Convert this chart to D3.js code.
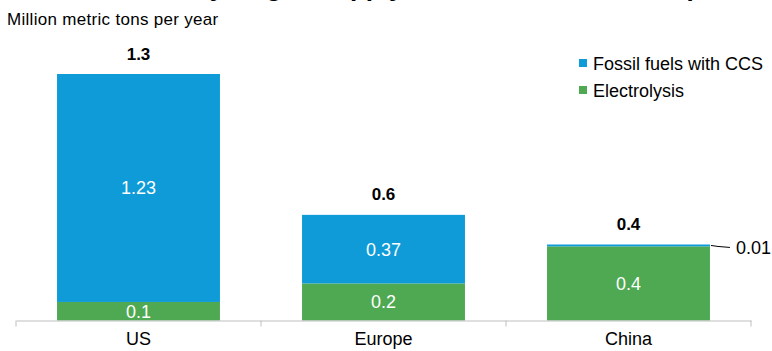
<!DOCTYPE html>
<html>
<head>
<meta charset="utf-8">
<script src="https://cdn.jsdelivr.net/npm/d3@7"></script>
<style>
  body { margin: 0; background: #fff; }
  svg { display: block; }
  text { font-family: "Liberation Sans", Arial, sans-serif; }
</style>
</head>
<body>
<script>
var categories = ['US', 'Europe', 'China'];
var seriesNames = ['Electrolysis', 'Fossil fuels with CCS'];
var electrolysis = [0.1, 0.2, 0.4];
var fossilCCS = [1.23, 0.37, 0.01];
var totals = [1.3, 0.6, 0.4];

var width = 772, height = 351;
var svg = d3.select('body').append('svg')
  .attr('width', width)
  .attr('height', height);

// title is cut off at the top edge, only descenders show
svg.append('text')
  .attr('x', 386)
  .attr('y', -4)
  .attr('text-anchor', 'middle')
  .attr('font-size', 26)
  .attr('font-weight', 'bold')
  .attr('fill', '#000')
  .text('Low-emissions hydrogen supply under construction, top three');

svg.append('text')
  .attr('x', 7)
  .attr('y', 25)
  .attr('font-size', 17)
  .attr('letter-spacing', 0.3)
  .attr('fill', '#000')
  .text('Million metric tons per year');

var x = d3.scaleBand()
  .domain(categories)
  .range([16, 751]);

var y = d3.scaleLinear()
  .domain([0, 1.5])
  .range([320.5, 42.5]);

var colors = { 'Electrolysis': '#4EA952', 'Fossil fuels with CCS': '#0E9BD8' };
var barRatio = 0.665;

var data = categories.map(function(c, i) {
  return { cat: c, elec: electrolysis[i], fossil: fossilCCS[i], total: totals[i] };
});

var stack = d3.stack().keys(['elec', 'fossil']);
var layers = stack(data);
var keyNames = { elec: 'Electrolysis', fossil: 'Fossil fuels with CCS' };

function barX(d) {
  return x(d.data.cat) + x.bandwidth() * (1 - barRatio) / 2;
}

layers.forEach(function(layer) {
  var g = svg.append('g');
  g.selectAll('rect')
    .data(layer)
    .enter()
    .append('rect')
    .attr('x', barX)
    .attr('y', function(d) { return y(d[1]); })
    .attr('width', x.bandwidth() * barRatio)
    .attr('height', function(d) { return y(d[0]) - y(d[1]); })
    .attr('fill', colors[keyNames[layer.key]]);

  // white labels inside, except the tiny China segment
  g.selectAll('text')
    .data(layer.filter(function(d) { return y(d[0]) - y(d[1]) > 10; }))
    .enter()
    .append('text')
    .attr('x', function(d) { return x(d.data.cat) + x.bandwidth() / 2; })
    .attr('y', function(d) { return (y(d[0]) + y(d[1])) / 2 + 6.5; })
    .attr('text-anchor', 'middle')
    .attr('font-size', 18)
    .attr('fill', '#fff')
    .text(function(d) { return d.data[layer.key]; });
});

// label for the tiny segment with a leader line
var china = data[2];
var chinaRight = x('China') + x.bandwidth() * (1 + barRatio) / 2;
var chinaMid = y(china.elec + china.fossil / 2);
svg.append('path')
  .attr('d', 'M' + (chinaRight + 1) + ',' + chinaMid +
    ' L' + (chinaRight + 8) + ',' + (chinaMid + 1) +
    ' L' + (chinaRight + 20) + ',' + (chinaMid + 2))
  .attr('fill', 'none')
  .attr('stroke', '#000')
  .attr('stroke-width', 1);
svg.append('text')
  .attr('x', chinaRight + 26)
  .attr('y', chinaMid + 9)
  .attr('font-size', 18)
  .attr('fill', '#000')
  .text(china.fossil);

// totals on top
svg.selectAll('.total')
  .data(data)
  .enter()
  .append('text')
  .attr('class', 'total')
  .attr('x', function(d) { return x(d.cat) + x.bandwidth() / 2; })
  .attr('y', function(d) { return y(d.elec + d.fossil) - 14.5; })
  .attr('text-anchor', 'middle')
  .attr('font-size', 17)
  .attr('font-weight', 'bold')
  .attr('fill', '#000')
  .text(function(d) { return d3.format('.1f')(d.total); });

// x axis
var axis = svg.append('g')
  .attr('transform', 'translate(0,' + y(0) + ')')
  .call(d3.axisBottom(x).tickSize(0).tickPadding(12));
axis.select('.domain').attr('stroke', '#BFBFBF');
axis.selectAll('.tick text')
  .attr('font-size', 18)
  .attr('fill', '#000')
  .attr('font-family', '"Liberation Sans", Arial, sans-serif');

var bounds = categories.map(function(c) { return x(c); }).concat([x.range()[1]]);
axis.selectAll('.sep')
  .data(bounds)
  .enter()
  .append('line')
  .attr('class', 'sep')
  .attr('x1', function(d) { return d; })
  .attr('x2', function(d) { return d; })
  .attr('y1', 0)
  .attr('y2', 6)
  .attr('stroke', '#BFBFBF');

// legend
var legendNames = ['Fossil fuels with CCS', 'Electrolysis'];
var legend = svg.append('g')
  .selectAll('g')
  .data(legendNames)
  .enter()
  .append('g')
  .attr('transform', function(d, i) { return 'translate(579,' + (59 + i * 27) + ')'; });
legend.append('rect')
  .attr('width', 8)
  .attr('height', 8)
  .attr('fill', function(d) { return colors[d]; });
legend.append('text')
  .attr('x', 14)
  .attr('y', 10.5)
  .attr('font-size', 18)
  .attr('fill', '#000')
  .text(function(d) { return d; });
</script>
</body>
</html>
